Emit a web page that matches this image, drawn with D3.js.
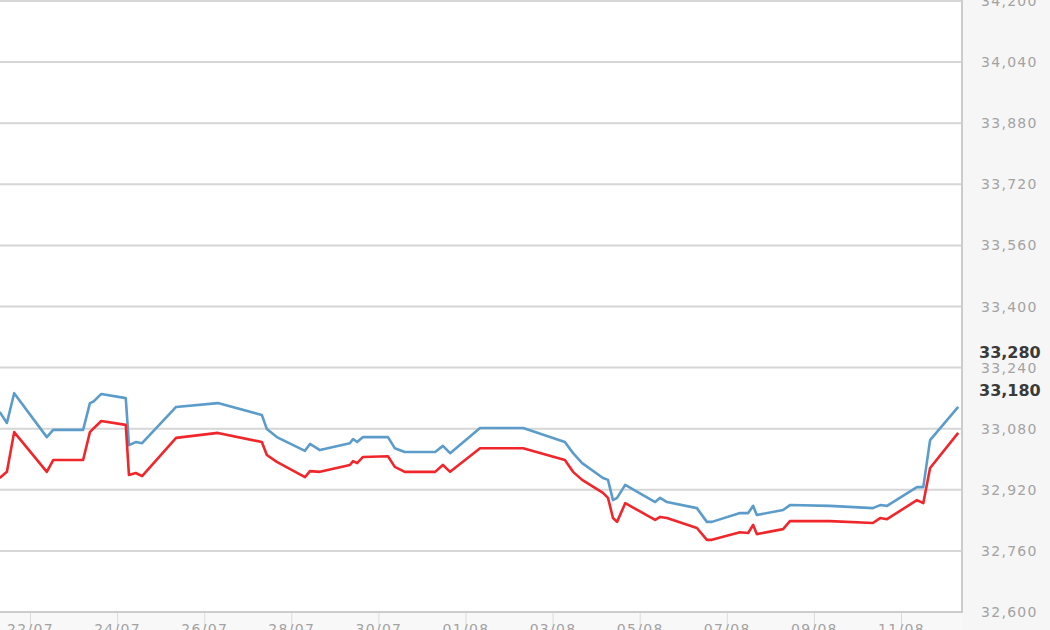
<!DOCTYPE html>
<html lang="en">
<head>
    <meta charset="utf-8">
    <title>price_chart</title>
    <script src="https://cdn.jsdelivr.net/npm/d3@7"></script>
    <style type="text/css">
        body { margin: 0; background: #ffffff; }
        svg { display: block; }
        .ylab { font-family: "DejaVu Sans", Verdana, sans-serif; font-size: 14px; fill: #a3a3a3; letter-spacing: 1.3px; }
        .xlab { font-family: "DejaVu Sans", Verdana, sans-serif; font-size: 14px; fill: #a3a3a3; letter-spacing: 1.3px; }
        .last { font-family: "DejaVu Sans", Verdana, sans-serif; font-size: 16px; font-weight: bold; fill: #3a3a3a; }
    </style>
</head>
<body>

<script type="text/javascript">

    // times of the points (both series share them)
    var times = [
        "2014-07-21T07:00", "2014-07-21T11:00", "2014-07-21T15:00", "2014-07-22T09:00",
        "2014-07-22T12:30", "2014-07-23T05:00", "2014-07-23T08:45", "2014-07-23T11:00",
        "2014-07-23T15:00", "2014-07-24T04:30", "2014-07-24T06:15", "2014-07-24T10:00",
        "2014-07-24T13:30", "2014-07-25T08:15", "2014-07-26T07:15", "2014-07-27T07:30",
        "2014-07-27T10:15", "2014-07-27T15:45", "2014-07-28T07:15", "2014-07-28T10:00",
        "2014-07-28T15:30", "2014-07-29T08:00", "2014-07-29T09:45", "2014-07-29T12:00",
        "2014-07-29T15:15", "2014-07-30T05:00", "2014-07-30T08:45", "2014-07-30T14:15",
        "2014-07-31T07:00", "2014-07-31T11:15", "2014-07-31T15:15", "2014-08-01T07:45",
        "2014-08-02T07:30", "2014-08-03T06:30", "2014-08-03T11:00", "2014-08-03T16:00",
        "2014-08-04T03:30", "2014-08-04T06:15", "2014-08-04T09:00", "2014-08-04T11:15",
        "2014-08-04T15:45", "2014-08-05T08:15", "2014-08-05T11:00", "2014-08-05T14:45",
        "2014-08-06T07:15", "2014-08-06T12:45", "2014-08-06T15:30", "2014-08-07T07:00",
        "2014-08-07T11:30", "2014-08-07T14:15", "2014-08-07T16:15", "2014-08-08T06:45",
        "2014-08-08T10:30", "2014-08-09T08:30", "2014-08-10T08:15", "2014-08-10T12:15",
        "2014-08-10T16:00", "2014-08-11T08:30", "2014-08-11T12:00", "2014-08-11T15:45",
        "2014-08-12T07:15"
    ];

    // upper (blue) series
    var sell = [
        33124, 33095, 33173, 33058, 33077, 33077, 33147, 33152, 33171, 33160,
        33037, 33045, 33042, 33137, 33147, 33116, 33079, 33058, 33022, 33040,
        33024, 33042, 33053, 33045, 33058, 33058, 33029, 33019, 33019, 33035,
        33016, 33082, 33082, 33045, 33016, 32990, 32951, 32946, 32893, 32899,
        32933, 32888, 32899, 32888, 32872, 32836, 32836, 32859, 32859, 32878,
        32854, 32867, 32880, 32878, 32872, 32880, 32878, 32927, 32927, 33050,
        33137
    ];

    // lower (red) series
    var buy = [
        32951, 32967, 33071, 32967, 32998, 32998, 33071, 33082, 33100, 33090,
        32959, 32964, 32956, 33056, 33069, 33045, 33011, 32993, 32953, 32969,
        32967, 32985, 32995, 32990, 33006, 33008, 32980, 32967, 32967, 32985,
        32967, 33029, 33029, 32998, 32967, 32946, 32912, 32899, 32846, 32836,
        32885, 32841, 32849, 32846, 32820, 32789, 32789, 32809, 32807, 32828,
        32804, 32817, 32838, 32838, 32833, 32846, 32843, 32893, 32885, 32977,
        33069
    ];

    var yTicks = [32600, 32760, 32920, 33080, 33240, 33400, 33560, 33720, 33880, 34040, 34200];
    var xTickDays = ["2014-07-22", "2014-07-24", "2014-07-26", "2014-07-28", "2014-07-30",
        "2014-08-01", "2014-08-03", "2014-08-05", "2014-08-07", "2014-08-09", "2014-08-11"];
    var lastLabels = [{text: "33,280", v: 33280}, {text: "33,180", v: 33180}];

    var W = 1050, H = 630;
    var plotRight = 962, plotBottom = 612;

    var parseT = d3.timeParse("%Y-%m-%dT%H:%M");
    var parseD = d3.timeParse("%Y-%m-%d");
    var fmtD = d3.timeFormat("%d/%m");

    var x = d3.scaleTime()
        .domain([parseD("2014-07-22"), parseD("2014-08-12")])
        .range([30.5, 30.5 + 21 * 43.55]);

    var y = d3.scaleLinear()
        .domain([32600, 34200])
        .range([plotBottom, 1]);

    var svg = d3.select("body")
        .append("svg")
        .attr("width", W)
        .attr("height", H);

    // side panels
    svg.append("rect")
        .attr("x", plotRight).attr("y", 0)
        .attr("width", W - plotRight).attr("height", H)
        .attr("fill", "#f6f6f6");
    svg.append("rect")
        .attr("x", 0).attr("y", plotBottom)
        .attr("width", plotRight).attr("height", H - plotBottom)
        .attr("fill", "#f8f8f8");

    svg.append("clipPath")
        .attr("id", "plot-clip")
        .append("rect")
        .attr("x", 0).attr("y", 0)
        .attr("width", plotRight).attr("height", plotBottom);

    // horizontal grid
    svg.selectAll("line.grid")
        .data(yTicks)
        .enter()
        .append("line")
        .attr("class", "grid")
        .attr("x1", 0)
        .attr("x2", plotRight)
        .attr("y1", d => y(d))
        .attr("y2", d => y(d))
        .attr("stroke", "#d6d6d6")
        .attr("stroke-width", 2);

    // right axis labels
    svg.selectAll("text.ylab")
        .data(yTicks)
        .enter()
        .append("text")
        .attr("class", "ylab")
        .attr("x", 981)
        .attr("y", d => y(d))
        .attr("dy", "0.36em")
        .text(d => d3.format(",")(d));

    // bold last-value labels
    svg.selectAll("text.last")
        .data(lastLabels)
        .enter()
        .append("text")
        .attr("class", "last")
        .attr("x", 979)
        .attr("y", d => y(d.v))
        .attr("dy", "0.36em")
        .text(d => d.text);

    // x ticks + labels
    var xDays = xTickDays.map(parseD);
    svg.selectAll("line.xtick")
        .data(xDays)
        .enter()
        .append("line")
        .attr("class", "xtick")
        .attr("x1", d => x(d))
        .attr("x2", d => x(d))
        .attr("y1", plotBottom)
        .attr("y2", H)
        .attr("stroke", "#dcdcdc")
        .attr("stroke-width", 1);
    svg.selectAll("text.xlab")
        .data(xDays)
        .enter()
        .append("text")
        .attr("class", "xlab")
        .attr("x", d => x(d))
        .attr("y", 634)
        .attr("text-anchor", "middle")
        .text(d => fmtD(d));

    // frame
    svg.append("line")
        .attr("x1", 0).attr("x2", plotRight + 1)
        .attr("y1", plotBottom).attr("y2", plotBottom)
        .attr("stroke", "#cccccc").attr("stroke-width", 2);
    svg.append("line")
        .attr("x1", plotRight).attr("x2", plotRight)
        .attr("y1", 0).attr("y2", plotBottom)
        .attr("stroke", "#cccccc").attr("stroke-width", 2);

    var tparsed = times.map(parseT);
    var line = d3.line()
        .x(d => x(d[0]))
        .y(d => y(d[1]));

    var series = [
        {key: "sell", values: sell, stroke: "#5b9ccb"},
        {key: "buy", values: buy, stroke: "#f0262b"}
    ];

    svg.append("g")
        .attr("clip-path", "url(#plot-clip)")
        .selectAll("path")
        .data(series, d => d.key)
        .enter()
        .append("path")
        .attr("d", d => line(d.values.map((v, i) => [tparsed[i], v])))
        .attr("fill", "none")
        .attr("stroke", d => d.stroke)
        .attr("stroke-width", 2.6)
        .attr("stroke-linejoin", "round");

</script>
</body>
</html>
